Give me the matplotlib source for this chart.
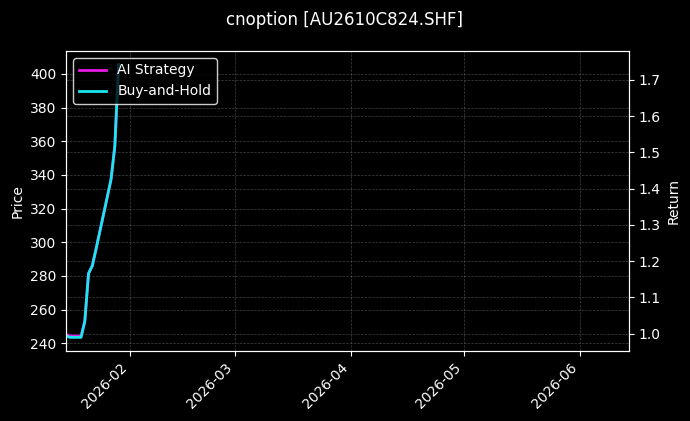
import matplotlib
matplotlib.use("Agg")
import matplotlib.pyplot as plt
import matplotlib.dates as mdates
import pandas as pd

dates = ["2026-01-15", "2026-01-16", "2026-01-19", "2026-01-20", "2026-01-21",
         "2026-01-22", "2026-01-23", "2026-01-26", "2026-01-27", "2026-01-28",
         "2026-01-29"]
price = [244.5, 243.5, 243.5, 253.0, 281.5, 286.0, 296.0, 327.0, 337.5, 357.0, 405.5]
bh_return = [0.9946, 0.99, 0.99, 1.0341, 1.1664, 1.1873, 1.2337, 1.3776, 1.4264, 1.5169, 1.742]
ai_return = [0.9985, 0.9935, 0.9935, 1.0341, 1.1664, 1.1873, 1.2337, 1.3776, 1.4264, 1.5169, 1.742]
x_end = "2026-06-14"
title = "cnoption [AU2610C824.SHF]"

plt.style.use("dark_background")
x = pd.to_datetime(dates)

fig = plt.figure(figsize=(6.9, 4.21), dpi=100)
ax1 = fig.add_subplot(111)
fig.subplots_adjust(left=0.0957, right=0.9116, top=0.8789, bottom=0.1663)

ax1.plot(x, price, color="#888888", linewidth=1.0)
ax1.set_ylabel("Price")
ax1.grid(True, linestyle="--", linewidth=0.5, color="gray", alpha=0.5)

ax2 = ax1.twinx()
ax2.plot(x, ai_return, color="#e619e6", linewidth=2, label="AI Strategy")
ax2.plot(x, bh_return, color="#19e6f0", linewidth=2, label="Buy-and-Hold")
ax2.set_ylabel("Return")
ax2.grid(True, linestyle="--", linewidth=0.5, color="gray", alpha=0.5)

ax1.set_xlim(x[0], pd.Timestamp(x_end))
ax1.xaxis.set_major_locator(mdates.MonthLocator())
ax1.xaxis.set_major_formatter(mdates.DateFormatter("%Y-%m"))
for lbl in ax1.get_xticklabels():
    lbl.set_rotation(45)
    lbl.set_ha("right")

ax2.legend(loc="upper left", facecolor="black", edgecolor="white", framealpha=0.8)
fig.suptitle(title, fontsize=12, y=0.975)

fig.savefig("out.png", dpi=100)
